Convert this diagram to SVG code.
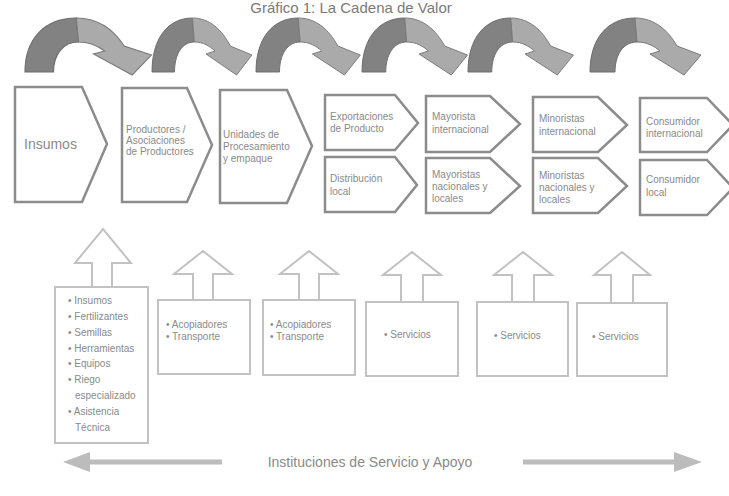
<svg xmlns="http://www.w3.org/2000/svg" width="729" height="496" viewBox="0 0 729 496">
<style>
.t{font-family:"Liberation Sans",Arial,sans-serif;fill:#8a8a8a;font-size:10px}
.big{font-size:14px}
.stage{fill:#fff;stroke:#8c8c8c;stroke-width:2.5;stroke-linejoin:miter}
.sup{fill:#fff;stroke:#c2c2c2;stroke-width:2}
.up{fill:#fff;stroke:#c2c2c2;stroke-width:2;stroke-linejoin:miter}
.dk{fill:#828282;stroke:#6c6c6c;stroke-width:1}
.lt{fill:#aaaaaa;stroke:#7a7a7a;stroke-width:1}
.base{stroke:#bcbcbc;stroke-width:5;fill:none}
.head{fill:#bcbcbc}
</style>
<defs>
<g id="arch">
<path class="dk" d="M0,72 C0,38 18,18 45,18 L47,42 C33,42 25,55 25,72 Z"/>
<path class="lt" d="M45,18 C64,18 78,30 87,46 L111,55 L94,75 L60,54 L70,51 C64,46 57,42 47,42 Z"/>
</g>
</defs>
<text class="t" x="351" y="13" text-anchor="middle" style="font-size:15px;fill:#7a7a7a">Gráfico 1: La Cadena de Valor</text>
<g id="connectors">
<use href="#arch" transform="translate(25,0) scale(1.14,1)"/>
<use href="#arch" transform="translate(152,0) scale(0.9,1)"/>
<use href="#arch" transform="translate(256,0) scale(0.94,1)"/>
<use href="#arch" transform="translate(362,0) scale(0.95,1)"/>
<use href="#arch" transform="translate(468,0) scale(0.95,1)"/>
<use href="#arch" transform="translate(590,0) scale(1,1)"/>
<line class="base" x1="88" y1="462" x2="222" y2="462"/>
<path class="head" d="M63,462 L90,452 L90,472 Z"/>
<line class="base" x1="523" y1="462" x2="676" y2="462"/>
<path class="head" d="M702,462 L674,452 L674,472 Z"/>
</g>
<g id="n-insumos"><path class="stage" d="M15,87 L82,87 L107,144 L82,202 L15,202 Z"/><text class="t big" x="24" y="149">Insumos</text></g>
<g id="n-productores"><path class="stage" d="M122,88 L187,88 L212,145 L187,202 L122,202 Z"/><text class="t" x="126" y="133">Productores /</text><text class="t" x="126" y="144">Asociaciones</text><text class="t" x="126" y="155">de Productores</text></g>
<g id="n-unidades"><path class="stage" d="M220,90 L287,90 L312,146 L287,203 L220,203 Z"/><text class="t" x="223" y="138">Unidades de</text><text class="t" x="223" y="150">Procesamiento</text><text class="t" x="223" y="162">y empaque</text></g>
<g id="n-export"><path class="stage" d="M325,95 L395,95 L418,123 L395,150 L325,150 Z"/><text class="t" x="330" y="120">Exportaciones</text><text class="t" x="330" y="132">de Producto</text></g>
<g id="n-distlocal"><path class="stage" d="M325,157 L395,157 L417,185 L395,212 L325,212 Z"/><text class="t" x="330" y="182">Distribución</text><text class="t" x="330" y="195">local</text></g>
<g id="n-mayint"><path class="stage" d="M426,96 L490,96 L520,124 L490,152 L426,152 Z"/><text class="t" x="432" y="120">Mayorista</text><text class="t" x="432" y="133">internacional</text></g>
<g id="n-maynac"><path class="stage" d="M426,158 L490,158 L520,186 L490,213 L426,213 Z"/><text class="t" x="432" y="178">Mayoristas</text><text class="t" x="432" y="190">nacionales y</text><text class="t" x="432" y="202">locales</text></g>
<g id="n-minint"><path class="stage" d="M533,97 L598,97 L627,125 L598,152 L533,152 Z"/><text class="t" x="539" y="122">Minoristas</text><text class="t" x="539" y="135">internacional</text></g>
<g id="n-minnac"><path class="stage" d="M533,158 L598,158 L627,186 L598,213 L533,213 Z"/><text class="t" x="539" y="179">Minoristas</text><text class="t" x="539" y="191">nacionales y</text><text class="t" x="539" y="203">locales</text></g>
<g id="n-consint"><path class="stage" d="M640,98 L707,98 L733,125 L707,152 L640,152 Z"/><text class="t" x="646" y="125">Consumidor</text><text class="t" x="646" y="137">internacional</text></g>
<g id="n-conslocal"><path class="stage" d="M640,160 L707,160 L733,188 L707,215 L640,215 Z"/><text class="t" x="646" y="183">Consumidor</text><text class="t" x="646" y="196">local</text></g>
<g id="s-insumos">
<path class="up" d="M92,287 L92,263 L75,263 L103,229 L131,263 L112,263 L112,287"/>
<rect class="sup" x="55" y="287" width="93" height="156"/>
<text class="t" x="68" y="304">• Insumos</text>
<text class="t" x="68" y="320">• Fertilizantes</text>
<text class="t" x="68" y="336">• Semillas</text>
<text class="t" x="68" y="352">• Herramientas</text>
<text class="t" x="68" y="367">• Equipos</text>
<text class="t" x="68" y="383">• Riego</text>
<text class="t" x="75" y="399">especializado</text>
<text class="t" x="68" y="415">• Asistencia</text>
<text class="t" x="75" y="431">Técnica</text>
</g>
<g id="s-acop1">
<path class="up" d="M193,300 L193,274 L174,274 L203,251 L232,274 L213,274 L213,300"/>
<rect class="sup" x="158" y="300" width="92" height="74"/>
<text class="t" x="166" y="328">• Acopiadores</text>
<text class="t" x="166" y="340">• Transporte</text>
</g>
<g id="s-acop2">
<path class="up" d="M299,300 L299,274 L280,274 L309,251 L338,274 L319,274 L319,300"/>
<rect class="sup" x="263" y="300" width="92" height="75"/>
<text class="t" x="270" y="328">• Acopiadores</text>
<text class="t" x="270" y="340">• Transporte</text>
</g>
<g id="s-serv1">
<path class="up" d="M401,302 L401,275 L383,275 L412,252 L441,275 L423,275 L423,302"/>
<rect class="sup" x="366" y="302" width="92" height="74"/>
<text class="t" x="384" y="338">• Servicios</text>
</g>
<g id="s-serv2">
<path class="up" d="M512,302 L512,275 L494,275 L523,252 L552,275 L534,275 L534,302"/>
<rect class="sup" x="477" y="302" width="91" height="74"/>
<text class="t" x="494" y="339">• Servicios</text>
</g>
<g id="s-serv3">
<path class="up" d="M611,303 L611,275 L594,275 L622,252 L650,275 L633,275 L633,303"/>
<rect class="sup" x="577" y="303" width="90" height="73"/>
<text class="t" x="592" y="340">• Servicios</text>
</g>
<text class="t" x="370" y="467" text-anchor="middle" style="font-size:14px">Instituciones de Servicio y Apoyo</text>
</svg>
